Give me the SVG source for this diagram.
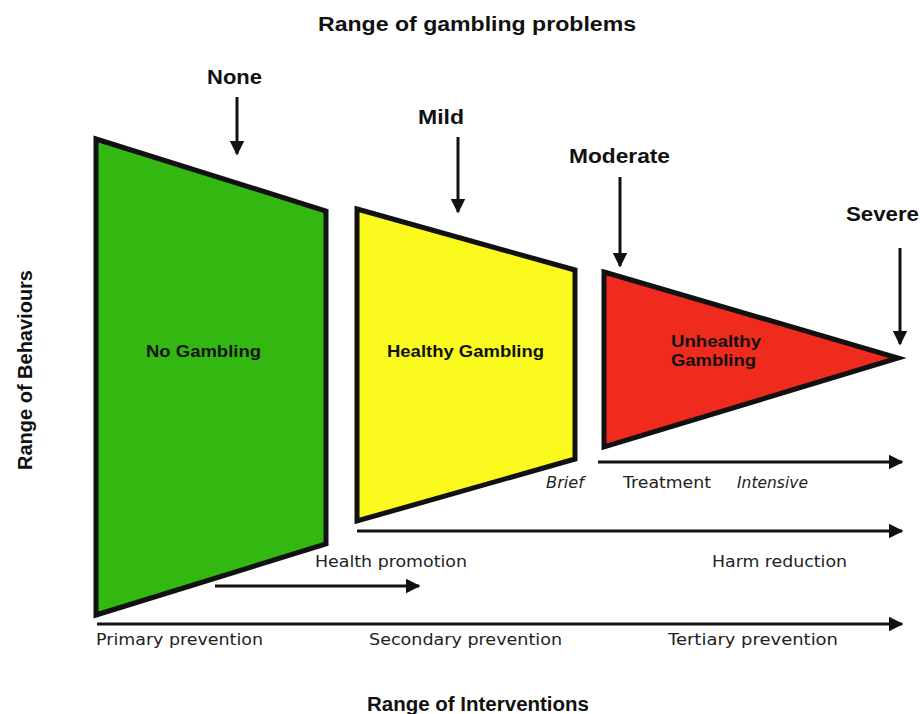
<svg xmlns="http://www.w3.org/2000/svg" width="920" height="714" viewBox="0 0 920 714">
<style>
.shape{stroke:#111;stroke-width:5;stroke-linejoin:miter}
.arr{stroke:#111;stroke-width:3;fill:none}
.hd{font-family:"Liberation Sans",Arial,sans-serif;font-weight:bold;font-size:20px;fill:#111}
.nl{font-family:"Liberation Sans",Arial,sans-serif;font-weight:bold;font-size:16px;fill:#111}
.iv{font-family:"DejaVu Sans","Liberation Sans",sans-serif;font-size:16px;fill:#222}
.it{font-style:italic}
</style>
<defs>
<marker id="ah" viewBox="0 0 10 10" refX="9" refY="5" markerWidth="5" markerHeight="5" orient="auto" markerUnits="strokeWidth">
<path d="M0,0 L10,5 L0,10 z" fill="#111"/>
</marker>
</defs>
<rect width="920" height="714" fill="#fff"/>
<text class="hd" x="318" y="31" textLength="318" lengthAdjust="spacingAndGlyphs">Range of gambling problems</text>
<text class="hd" x="367" y="711" textLength="222" lengthAdjust="spacingAndGlyphs">Range of Interventions</text>
<text class="hd" transform="translate(32,470) rotate(-90)" textLength="200" lengthAdjust="spacingAndGlyphs">Range of Behaviours</text>

<g id="none-label"><text class="hd" x="207" y="84" textLength="55" lengthAdjust="spacingAndGlyphs">None</text></g>
<g id="mild-label"><text class="hd" x="418" y="124" textLength="46" lengthAdjust="spacingAndGlyphs">Mild</text></g>
<g id="moderate-label"><text class="hd" x="569" y="163" textLength="101" lengthAdjust="spacingAndGlyphs">Moderate</text></g>
<g id="severe-label"><text class="hd" x="846" y="221" textLength="73" lengthAdjust="spacingAndGlyphs">Severe</text></g>

<g id="no-gambling">
<polygon class="shape" points="96,139 326,211 326,544 96,615" fill="#33b812"/>
<text class="nl" x="146" y="357" textLength="115" lengthAdjust="spacingAndGlyphs">No Gambling</text>
</g>
<g id="healthy-gambling">
<polygon class="shape" points="357,209 575,270 575,459 357,521" fill="#fafa1e"/>
<text class="nl" x="387" y="357" textLength="157" lengthAdjust="spacingAndGlyphs">Healthy Gambling</text>
</g>
<g id="unhealthy-gambling">
<polygon class="shape" points="604,272 898,358 604,447" fill="#ee2b1c"/>
<text class="nl" x="671" y="347" textLength="90" lengthAdjust="spacingAndGlyphs">Unhealthy</text>
<text class="nl" x="671" y="366" textLength="85" lengthAdjust="spacingAndGlyphs">Gambling</text>
</g>

<g id="connectors">
<line class="arr" x1="237" y1="97" x2="237" y2="154" marker-end="url(#ah)"/>
<line class="arr" x1="458" y1="137" x2="458" y2="212" marker-end="url(#ah)"/>
<line class="arr" x1="620" y1="177" x2="620" y2="266" marker-end="url(#ah)"/>
<line class="arr" x1="900" y1="248" x2="900" y2="344" marker-end="url(#ah)"/>
<line class="arr" x1="598" y1="462" x2="902" y2="462" marker-end="url(#ah)"/>
<line class="arr" x1="357" y1="531" x2="902" y2="531" marker-end="url(#ah)"/>
<line class="arr" x1="215" y1="586" x2="419" y2="586" marker-end="url(#ah)"/>
<line class="arr" x1="97" y1="624" x2="902" y2="624" marker-end="url(#ah)"/>
</g>

<g id="intervention-labels">
<text class="iv it" x="546" y="488" textLength="38" lengthAdjust="spacingAndGlyphs">Brief</text>
<text class="iv" x="623" y="488" textLength="88" lengthAdjust="spacingAndGlyphs">Treatment</text>
<text class="iv it" x="737" y="488" textLength="71" lengthAdjust="spacingAndGlyphs">Intensive</text>
<text class="iv" x="315" y="567" textLength="152" lengthAdjust="spacingAndGlyphs">Health promotion</text>
<text class="iv" x="712" y="567" textLength="135" lengthAdjust="spacingAndGlyphs">Harm reduction</text>
<text class="iv" x="96" y="645" textLength="167" lengthAdjust="spacingAndGlyphs">Primary prevention</text>
<text class="iv" x="369" y="645" textLength="193" lengthAdjust="spacingAndGlyphs">Secondary prevention</text>
<text class="iv" x="668" y="645" textLength="170" lengthAdjust="spacingAndGlyphs">Tertiary prevention</text>
</g>
</svg>
